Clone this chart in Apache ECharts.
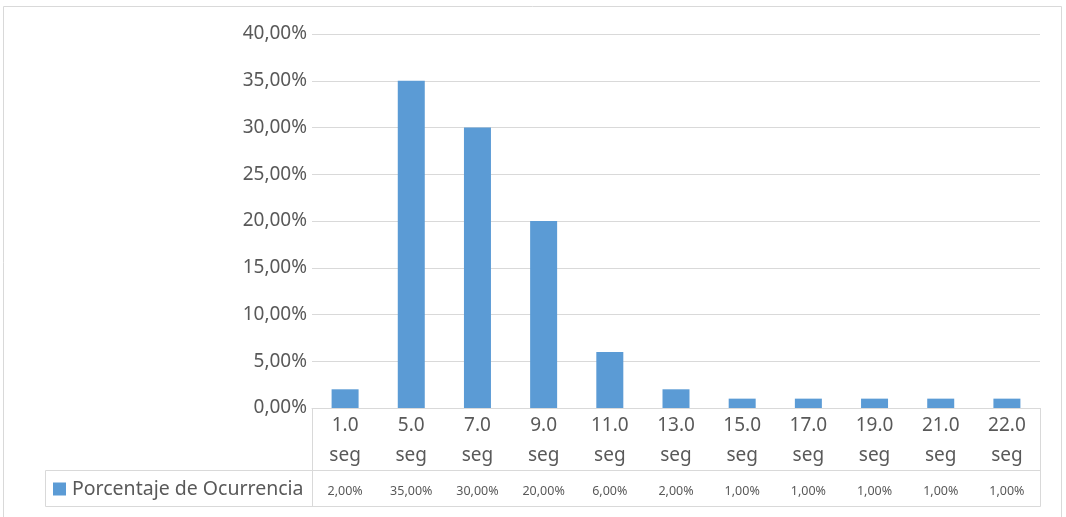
<!DOCTYPE html>
<html><head><meta charset="utf-8">
<script src="https://cdn.jsdelivr.net/npm/echarts@6/dist/echarts.min.js"></script>
<style>html,body{margin:0;padding:0;background:#fff}#c{width:1066px;height:517px}</style>
</head><body><div id="c"></div>
<script>
const categories = ['1.0 seg','5.0 seg','7.0 seg','9.0 seg','11.0 seg','13.0 seg','15.0 seg','17.0 seg','19.0 seg','21.0 seg','22.0 seg'];
const values = [0.02,0.35,0.30,0.20,0.06,0.02,0.01,0.01,0.01,0.01,0.01];
const seriesName = 'Porcentaje de Ocurrencia';
const yTicks = {min:0, max:0.4, interval:0.05};

const fmt = v => (v*100).toFixed(2).replace('.', ',') + '%';
const FONT = 'Noto Sans';
const C = '#595959';
const L = '#d9d9d9';
const chart = echarts.init(document.getElementById('c'));
chart.setOption({
  animation:false,
  textStyle:{fontFamily:FONT},
  grid:{left:312, right:26, top:34, bottom:109},
  legend:{show:true, left:53, top:479, padding:0, icon:'rect', itemWidth:13, itemHeight:13, itemGap:0,
    textStyle:{fontSize:19.5, color:C, fontFamily:FONT, padding:[0,0,0,1]}, selectedMode:false, data:[seriesName]},
  xAxis:[{
    type:'category', data:categories, position:'bottom',
    axisLine:{lineStyle:{color:L}}, axisTick:{show:false},
    axisLabel:{fontSize:19, color:C, lineHeight:30, margin:3, interval:0,
      formatter: s => s.replace(' ', '\n')}
  },{
    type:'category', data:categories, position:'bottom', offset:77, gridIndex:0,
    axisLine:{show:false}, axisTick:{show:false},
    axisLabel:{fontSize:12.5, color:C, interval:0, margin:0,
      formatter:(s, i) => fmt(values[i])}
  }],
  yAxis:{type:'value', min:yTicks.min, max:yTicks.max, interval:yTicks.interval,
    axisLine:{show:false}, axisTick:{show:false},
    axisLabel:{fontSize:19, color:C, margin:5, padding:[4,0,0,0], formatter: fmt},
    splitLine:{lineStyle:{color:L, width:1}}},
  series:[{name:seriesName, type:'bar', data:values, barWidth:27, itemStyle:{color:'#5b9bd5'}}],
  graphic:[
    {type:'rect', shape:{x:3.5, y:6.5, width:1058, height:520}, style:{fill:null, stroke:L, lineWidth:1}, silent:true},
    {type:'polyline', shape:{points:[[312.5,408],[312.5,506.5]]}, style:{stroke:L, lineWidth:1, fill:null}},
    {type:'polyline', shape:{points:[[1040.5,408],[1040.5,506.5]]}, style:{stroke:L, lineWidth:1, fill:null}},
    {type:'polyline', shape:{points:[[45.5,470.5],[1040.5,470.5]]}, style:{stroke:L, lineWidth:1, fill:null}},
    {type:'polyline', shape:{points:[[45.5,506.5],[1040.5,506.5]]}, style:{stroke:L, lineWidth:1, fill:null}},
    {type:'polyline', shape:{points:[[45.5,470.5],[45.5,506.5]]}, style:{stroke:L, lineWidth:1, fill:null}}
  ]
});
</script></body></html>
